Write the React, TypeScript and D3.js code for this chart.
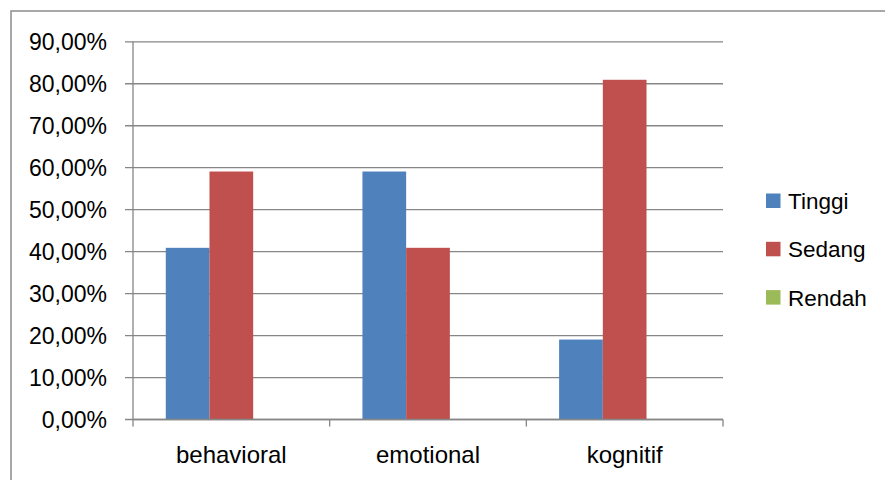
import React from "react";
import * as d3 from "d3";

const categories = ["behavioral", "emotional", "kognitif"];
const seriesNames = ["Tinggi", "Sedang", "Rendah"];
const tinggi = [40.91, 59.09, 19.05];
const sedang = [59.09, 40.91, 80.95];
const rendah = [0, 0, 0];
const yTicks = [0, 10, 20, 30, 40, 50, 60, 70, 80, 90];
const colors = ["#4F81BD", "#C0504D", "#9BBB59"];

const W = 885;
const H = 480;
const plot = { left: 133, right: 723, top: 41.8, bottom: 419.5 };
const FONT = "'Liberation Sans', Arial, sans-serif";

export default function App() {
  const seriesValues = [tinggi, sedang, rendah];
  const y = d3.scaleLinear().domain([0, 90]).range([plot.bottom, plot.top]);
  const x0 = d3
    .scaleBand<string>()
    .domain(categories)
    .range([plot.left, plot.right])
    .paddingInner(0)
    .paddingOuter(0);
  // three bars per group with a 150% gap split evenly on both sides
  const barW = x0.bandwidth() / 4.5;
  const x1 = d3
    .scaleBand<string>()
    .domain(seriesNames)
    .range([barW * 0.75, barW * 3.75]);

  const fmt = (v: number) => v.toFixed(2).replace(".", ",") + "%";
  const grid = "#868686";

  return (
    <svg
      width={W}
      height={H}
      style={{ position: "absolute", left: 0, top: 0, display: "block", background: "#fff" }}
    >
      <rect x={11} y={11} width={W + 20} height={H + 20} fill="#fff" stroke="#8c8c8c" strokeWidth={1.5} />

      {yTicks.map((t) => (
        <g key={t}>
          <line x1={plot.left - 8} x2={plot.right} y1={y(t)} y2={y(t)} stroke={grid} strokeWidth={1.3} />
          <text
            x={107}
            y={y(t) + 8.5}
            textAnchor="end"
            fontFamily={FONT}
            fontSize={23}
            fill="#000"
          >
            {fmt(t)}
          </text>
        </g>
      ))}

      <line x1={plot.left} x2={plot.left} y1={plot.top} y2={plot.bottom + 7} stroke={grid} strokeWidth={1.3} />
      {categories.map((c) => (
        <line
          key={"tk" + c}
          x1={(x0(c) as number) + x0.bandwidth()}
          x2={(x0(c) as number) + x0.bandwidth()}
          y1={plot.bottom}
          y2={plot.bottom + 7}
          stroke={grid}
          strokeWidth={1.3}
        />
      ))}

      {categories.map((c, ci) => (
        <g key={c} transform={`translate(${x0(c)},0)`}>
          {seriesNames.map((s, si) => {
            const v = seriesValues[si][ci];
            if (v <= 0) return null;
            return (
              <rect
                key={s}
                x={x1(s) as number}
                y={y(v)}
                width={x1.bandwidth()}
                height={plot.bottom - y(v)}
                fill={colors[si]}
              />
            );
          })}
        </g>
      ))}

      <line x1={plot.left} x2={plot.right} y1={plot.bottom} y2={plot.bottom} stroke={grid} strokeWidth={1.3} />

      {categories.map((c) => (
        <text
          key={"lbl" + c}
          x={(x0(c) as number) + x0.bandwidth() / 2}
          y={463}
          textAnchor="middle"
          fontFamily={FONT}
          fontSize={24}
          fill="#000"
        >
          {c}
        </text>
      ))}

      {seriesNames.map((s, i) => (
        <g key={"lg" + s} transform={`translate(766,${193.5 + i * 48.3})`}>
          <rect x={0} y={0} width={14.5} height={14.5} fill={colors[i]} />
          <text x={22} y={15.5} fontFamily={FONT} fontSize={22.5} fill="#000">
            {s}
          </text>
        </g>
      ))}
    </svg>
  );
}
